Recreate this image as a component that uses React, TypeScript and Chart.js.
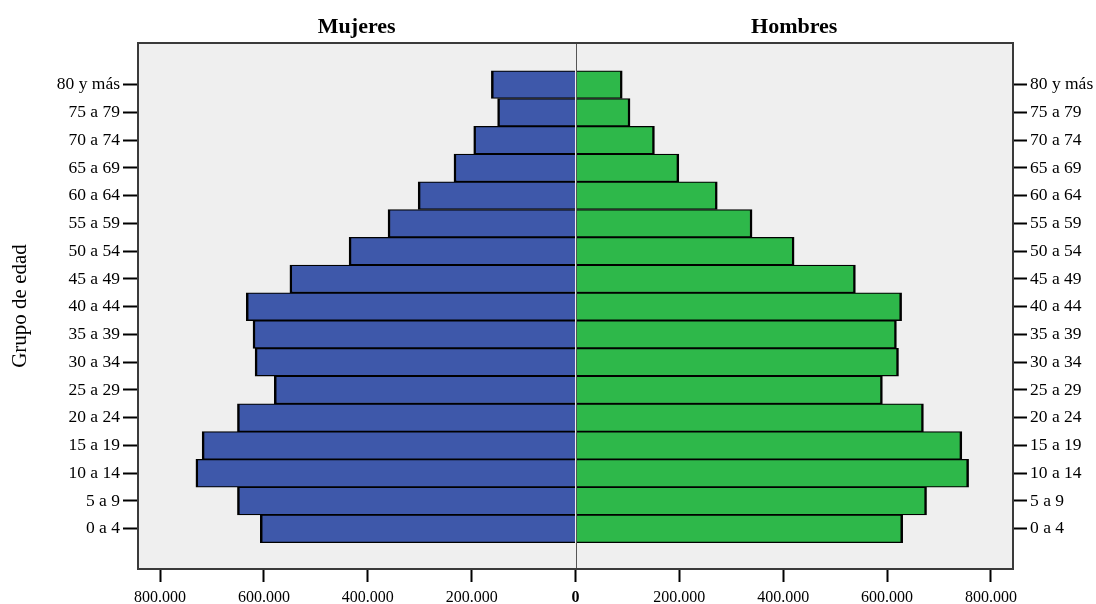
import React, { useEffect, useRef } from "react";
import { Chart, registerables } from "chart.js";

Chart.register(...registerables);

const AGE_LABELS: string[] = [
  "0 a 4", "5 a 9", "10 a 14", "15 a 19", "20 a 24", "25 a 29", "30 a 34", "35 a 39",
  "40 a 44", "45 a 49", "50 a 54", "55 a 59", "60 a 64", "65 a 69", "70 a 74", "75 a 79", "80 y más",
];
const MUJERES: number[] = [
  607000, 651000, 731000, 719000, 651000, 580000, 617000, 621000,
  634000, 550000, 436000, 361000, 303000, 234000, 196000, 150000, 162000,
];
const HOMBRES: number[] = [
  630000, 676000, 757000, 744000, 670000, 591000, 622000, 618000,
  628000, 539000, 421000, 340000, 273000, 199000, 152000, 105000, 90000,
];
const X_TICKS: number[] = [-800000, -600000, -400000, -200000, 0, 200000, 400000, 600000, 800000];
const SIDE_TITLES: string[] = ["Mujeres", "Hombres"];
const Y_TITLE = "Grupo de edad";

const FONT = "'Liberation Serif', 'Times New Roman', serif";

function fmt(v: number): string {
  const s = Math.round(Math.abs(v)).toString();
  return s.replace(/\B(?=(\d{3})+(?!\d))/g, ".");
}

const decor = {
  id: "pyramidDecor",
  beforeDraw(chart: any) {
    const { ctx, chartArea: a } = chart;
    ctx.save();
    ctx.fillStyle = "#EFEFEF";
    ctx.fillRect(a.left, a.top, a.right - a.left, a.bottom - a.top);
    ctx.restore();
  },
  afterDatasetsDraw(chart: any) {
    const { ctx, chartArea: a, scales } = chart;
    const x0 = scales.x.getPixelForValue(0);
    ctx.save();
    ctx.strokeStyle = "#555";
    ctx.lineWidth = 1;
    ctx.beginPath();
    ctx.moveTo(Math.round(x0) + 0.5, a.top);
    ctx.lineTo(Math.round(x0) + 0.5, a.bottom);
    ctx.stroke();
    ctx.strokeStyle = "#3a3a3a";
    ctx.lineWidth = 2;
    ctx.strokeRect(a.left, a.top, a.right - a.left, a.bottom - a.top);
    ctx.fillStyle = "#000";
    ctx.font = `bold 22px ${FONT}`;
    ctx.textAlign = "center";
    ctx.textBaseline = "middle";
    ctx.fillText(SIDE_TITLES[0], (a.left + x0) / 2, 27);
    ctx.fillText(SIDE_TITLES[1], (x0 + a.right) / 2, 27);
    ctx.restore();
  },
};

export default function App() {
  const ref = useRef<HTMLCanvasElement | null>(null);
  useEffect(() => {
    if (!ref.current) return;
    const yTicks = AGE_LABELS.map((_, i) => ({ value: i }));
    const yCommon = {
      type: "linear" as const,
      min: -1.45,
      max: 17.5,
      offset: false,
      afterBuildTicks: (s: any) => {
        s.ticks = yTicks.map((t) => ({ ...t }));
      },
      ticks: {
        callback: (v: any) => AGE_LABELS[v] ?? "",
        color: "#000",
        font: { family: FONT, size: 17.5 },
        padding: 3,
        autoSkip: false,
      },
      grid: {
        offset: false,
        drawOnChartArea: false,
        drawTicks: true,
        tickLength: 15,
        tickColor: "#000",
        tickWidth: 2,
      },
      border: { display: false },
    };
    const barBorder = { top: 1.3, bottom: 1.3, left: 2.5, right: 2.5 };
    const chart = new Chart(ref.current, {
      type: "bar",
      data: {
        datasets: [
          {
            label: SIDE_TITLES[0],
            data: MUJERES.map((v, i) => ({ x: -v, y: i })),
            backgroundColor: "#3E58AA",
            borderColor: "#000",
            borderWidth: barBorder,
            grouped: false,
            barPercentage: 1,
            categoryPercentage: 1,
          } as any,
          {
            label: SIDE_TITLES[1],
            data: HOMBRES.map((v, i) => ({ x: v, y: i })),
            backgroundColor: "#2EB84A",
            borderColor: "#000",
            borderWidth: barBorder,
            grouped: false,
            barPercentage: 1,
            categoryPercentage: 1,
          } as any,
        ],
      },
      options: {
        indexAxis: "y",
        animation: false,
        responsive: false,
        layout: { padding: { top: 43, left: 0, right: 0, bottom: 0 } },
        plugins: { legend: { display: false }, tooltip: { enabled: false } },
        scales: {
          x: {
            type: "linear",
            min: -842500,
            max: 842500,
            afterBuildTicks: (s: any) => {
              s.ticks = X_TICKS.map((v) => ({ value: v }));
            },
            afterFit: (s: any) => {
              s.height = 35;
            },
            ticks: {
              callback: (v: any) => fmt(Number(v)),
              color: "#000",
              padding: 6,
              maxRotation: 0,
              autoSkip: false,
              font: (c: any) => ({
                family: FONT,
                size: 16,
                weight: c.tick && c.tick.value === 0 ? "bold" : "normal",
              }),
            },
            grid: {
              drawOnChartArea: false,
              drawTicks: true,
              tickLength: 13,
              tickColor: "#000",
              tickWidth: 2,
            },
            border: { display: false },
          },
          y: {
            ...yCommon,
            position: "left",
            afterFit: (s: any) => {
              s.width = 138;
            },
            title: {
              display: true,
              text: Y_TITLE,
              color: "#000",
              font: { family: FONT, size: 21 },
              padding: { top: 8, bottom: 0 },
            },
          },
          y2: {
            ...yCommon,
            position: "right",
            afterFit: (s: any) => {
              s.width = 83;
            },
            grid: { ...yCommon.grid, tickLength: 14 },
          },
        } as any,
      },
      plugins: [decor],
    });
    return () => chart.destroy();
  }, []);
  return (
    <div style={{ position: "fixed", left: 0, top: 0, width: 1096, height: 604, background: "#fff" }}>
      <canvas ref={ref} width={1096} height={604} style={{ display: "block" }} />
    </div>
  );
}
